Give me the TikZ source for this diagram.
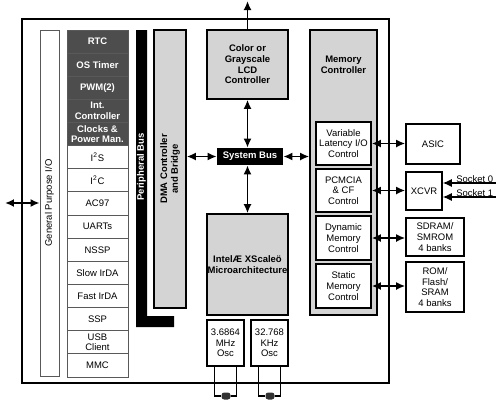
\documentclass[tikz,border=0pt]{standalone}
\usepackage{fontspec}
\setmainfont{Liberation Sans}
\usepackage{xcolor}
\usetikzlibrary{arrows.meta, positioning}
\definecolor{rowdark}{RGB}{77, 77, 77}
\definecolor{boxgray}{RGB}{212, 212, 212}
\newcommand{\diafont}{\fontsize{5.4}{6.1}\selectfont}

\begin{document}
\begin{tikzpicture}[
    x=0.02cm, y=-0.02cm,
    every node/.style={font=\diafont, align=center, inner sep=0.5pt},
    chip/.style={line width=1.4pt},
    row/.style={draw=black!65, line width=0.5pt, minimum width=1.22cm, minimum height=0.4627cm, outer sep=0},
    darkrow/.style={row, fill=rowdark, text=white, font=\diafont\bfseries},
    lightrow/.style={row, fill=white},
    graybox/.style={draw, line width=0.9pt, fill=boxgray, font=\diafont\bfseries},
    whitebox/.style={draw, line width=0.9pt, fill=white},
    busbox/.style={fill=black, text=white, font=\diafont\bfseries},
    dblarrow/.style={{Latex[length=1.8mm, width=1.6mm]}-{Latex[length=1.8mm, width=1.6mm]}, line width=1pt},
    arrow/.style={-{Latex[length=1.8mm, width=1.6mm]}, line width=1pt},
    wire/.style={line width=0.8pt}
]
\useasboundingbox (0,0) rectangle (500,403);

% Chip outline
\draw[chip] (22,19) rectangle (389,383);

% General purpose I/O
\node[draw=black!65, line width=0.5pt, fill=white, rotate=90, minimum width=6.92cm, minimum height=0.38cm] (gpio) at (49.5,203) {General Purpose I/O};

% Peripheral units
\node[darkrow] (rtc) at (97.5,41.57) {RTC};
\node[darkrow, below=0pt of rtc] (ostimer) {OS Timer};
\node[darkrow, below=0pt of ostimer] (pwm) {PWM(2)};
\node[darkrow, below=0pt of pwm] (intc) {Int.\\Controller};
\node[darkrow, below=0pt of intc] (clocks) {Clocks \&\\Power Man.};
\node[lightrow, below=0pt of clocks] (iis) {I\textsuperscript{2}S};
\node[lightrow, below=0pt of iis] (iic) {I\textsuperscript{2}C};
\node[lightrow, below=0pt of iic] (ac97) {AC97};
\node[lightrow, below=0pt of ac97] (uarts) {UARTs};
\node[lightrow, below=0pt of uarts] (nssp) {NSSP};
\node[lightrow, below=0pt of nssp] (slowir) {Slow IrDA};
\node[lightrow, below=0pt of slowir] (fastir) {Fast IrDA};
\node[lightrow, below=0pt of fastir] (ssp) {SSP};
\node[lightrow, below=0pt of ssp] (usb) {USB\\Client};
\node[lightrow, below=0pt of usb] (mmc) {MMC};

% Peripheral bus
\fill (136,30) -- (147,30) -- (147,316) -- (174,316) -- (174,327) -- (136,327) -- cycle;
\node[busbox, rotate=90] (pbus) at (141.5,167) {Peripheral Bus};

% DMA
\node[graybox, rotate=90, minimum width=5.56cm, minimum height=0.64cm] (dma) at (170,169) {DMA Controller\\and Bridge};

% Core and LCD
\node[graybox, minimum width=1.62cm, minimum height=1.38cm] (lcd) at (247.5,64.5) {Color or\\Grayscale\\LCD\\Controller};
\node[busbox, minimum width=1.32cm, minimum height=0.34cm] (sysbus) at (250,156.5) {System Bus};
\node[graybox, minimum width=1.62cm, minimum height=2.02cm] (core) at (247.5,264.5) {IntelÆ XScaleö\\Microarchitecture};

% Oscillators
\node[whitebox, minimum width=0.74cm, minimum height=0.92cm] (osca) at (225.5,343) {3.6864\\MHz\\Osc};
\node[whitebox, minimum width=0.74cm, minimum height=0.92cm] (oscb) at (269.5,343) {32.768\\KHz\\Osc};
\node[fill=black!80, rounded corners=1.5pt, minimum width=0.18cm, minimum height=0.14cm, inner sep=0] (xtala) at (226,396) {};
\node[fill=black!80, rounded corners=1.5pt, minimum width=0.18cm, minimum height=0.14cm, inner sep=0] (xtalb) at (270,396) {};

% Memory controller
\node[graybox, minimum width=1.34cm, minimum height=5.7cm] (memctrl) at (343.5,172.5) {};
\node[font=\diafont\bfseries] (memlabel) at (343.5,65) {Memory\\Controller};
\node[whitebox, minimum width=1.1cm, minimum height=0.87cm] (vlio) at (343.5,143.5) {Variable\\Latency I/O\\Control};
\node[whitebox, minimum width=1.1cm, minimum height=0.87cm] (pcmcia) at (343.5,190.5) {PCMCIA\\\& CF\\Control};
\node[whitebox, minimum width=1.1cm, minimum height=0.87cm] (dynmem) at (343.5,238) {Dynamic\\Memory\\Control};
\node[whitebox, minimum width=1.1cm, minimum height=0.87cm] (statmem) at (343.5,286) {Static\\Memory\\Control};

% External devices
\node[whitebox, minimum width=1.08cm, minimum height=0.8cm] (asic) at (433,144) {ASIC};
\node[whitebox, minimum width=0.72cm, minimum height=0.76cm] (xcvr) at (424,191) {XCVR};
\node[whitebox, minimum width=1.16cm, minimum height=0.76cm] (sdram) at (435,237) {SDRAM/\\SMROM\\4 banks};
\node[whitebox, minimum width=1.16cm, minimum height=1.0cm] (rom) at (435,287) {ROM/\\Flash/\\SRAM\\4 banks};

% Free ends
\coordinate (gpioout) at (5,203);
\coordinate (lcdout) at (247.5,1);
\coordinate (sock0) at (496,183);
\coordinate (sock1) at (496,197);

% Arrows
\draw[dblarrow] (gpioout) -- (gpio.north);
\draw[arrow] (lcd.north) -- (lcdout);
\draw[dblarrow] (lcd.south) -- (lcd.south |- sysbus.north);
\draw[dblarrow] (core.north) -- (core.north |- sysbus.south);
\draw[dblarrow] (sysbus.west -| dma.south) -- (sysbus.west);
\draw[dblarrow] (sysbus.east) -- (sysbus.east -| memctrl.west);

\draw[dblarrow] (vlio.east) -- (vlio.east -| asic.west);
\draw[dblarrow] (pcmcia.east) -- (pcmcia.east -| xcvr.west);
\draw[dblarrow] (dynmem.east) -- (dynmem.east -| sdram.west);
\draw[dblarrow] (statmem.east) -- (statmem.east -| rom.west);

\draw[-{Latex[length=1.8mm, width=1.6mm]}, line width=0.7pt] (sock0) -- node[above=-0.5pt, pos=0.4] {Socket 0} (sock0 -| xcvr.east);
\draw[-{Latex[length=1.8mm, width=1.6mm]}, line width=0.7pt] (sock1) -- node[above=-0.5pt, pos=0.4] {Socket 1} (sock1 -| xcvr.east);

% Crystals
\draw[wire] ([xshift=0.16cm]osca.south west) |- (xtala.west);
\draw[wire] ([xshift=-0.16cm]osca.south east) |- (xtala.east);
\draw[wire] ([xshift=0.16cm]oscb.south west) |- (xtalb.west);
\draw[wire] ([xshift=-0.16cm]oscb.south east) |- (xtalb.east);

\end{tikzpicture}
\end{document}
